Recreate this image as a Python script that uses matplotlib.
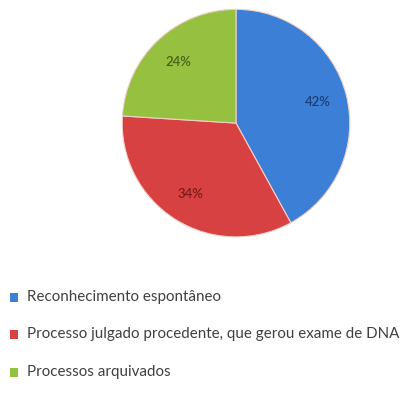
import matplotlib
matplotlib.use("Agg")
import matplotlib.pyplot as plt
from matplotlib.patches import Rectangle

# dados do gráfico
categorias = ["Reconhecimento espontâneo",
              "Processo julgado procedente, que gerou exame de DNA",
              "Processos arquivados"]
valores = [42, 34, 24]
cores = ["#3c7fd6", "#d84141", "#96c140"]
cores_rotulo = ["#1d3f78", "#7c1c1a", "#4a6019"]

plt.rcParams["font.family"] = ["Liberation Sans Narrow", "Lato", "DejaVu Sans"]

fig = plt.figure(figsize=(4.09, 3.99), dpi=100)
ax = fig.add_axes([0.296, 0.4035, 0.562, 0.576])
fatias, textos, pct = ax.pie(valores, colors=cores, startangle=90, counterclock=False,
                             autopct="%d%%", pctdistance=0.74,
                             wedgeprops=dict(edgecolor="#f2d0c8", linewidth=0.8))
for t, c in zip(pct, cores_rotulo):
    t.set_color(c)
    t.set_fontsize(9.5)
    t.set_fontweight("semibold")
ax.set_xlim(-1.01, 1.01)
ax.set_ylim(-1.01, 1.01)
ax.set_aspect("equal")
ax.axis("off")

# legenda em linhas separadas
ys = [297, 334, 372]
textos_leg = []
for nome, cor, y in zip(categorias, cores, ys):
    yf = 1 - y / 399
    fig.patches.append(Rectangle((10 / 409, yf - 4.5 / 399), 8 / 409, 9 / 399,
                                 transform=fig.transFigure, facecolor=cor, edgecolor="none"))
    textos_leg.append(fig.text(27 / 409, yf, nome, fontsize=10.5, color="#404040",
                               va="center", ha="left", fontstretch="condensed"))

# ajusta o tamanho da fonte para a linha mais longa caber até ~402 px
r = fig.canvas.get_renderer()
larg = textos_leg[1].get_window_extent(r).width
tam = 10.5 * 375 / larg
for t in textos_leg:
    t.set_fontsize(tam)

fig.savefig("out.png", dpi=100)
